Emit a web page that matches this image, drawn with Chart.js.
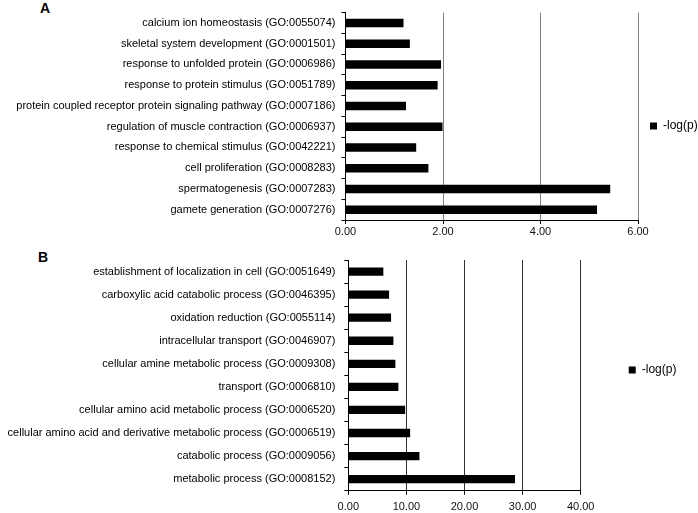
<!DOCTYPE html>
<html>
<head>
<meta charset="utf-8">
<script src="https://cdn.jsdelivr.net/npm/chart.js@4.4.1/dist/chart.umd.min.js"></script>
<style>
  html, body { margin:0; padding:0; background:#fff; overflow:hidden; }
  body { width:698px; height:513px; position:relative; font-family:"Liberation Sans", Arial, sans-serif; }
  .panel-tag { position:absolute; font-weight:bold; font-size:14px; line-height:16px; color:#000; }
  canvas { position:absolute; left:0; }
</style>
</head>
<body>
<div class="panel-tag" style="left:40px;top:0px">A</div>
<div class="panel-tag" style="left:38px;top:249px">B</div>
<canvas id="chartA" width="698" height="247" style="top:0px"></canvas>
<canvas id="chartB" width="698" height="286" style="top:227px"></canvas>
<script>
// Panel A – GO terms and -log(p)
const termsA = [
  'calcium ion homeostasis (GO:0055074)',
  'skeletal system development (GO:0001501)',
  'response to unfolded protein (GO:0006986)',
  'response to protein stimulus (GO:0051789)',
  'protein coupled receptor protein signaling pathway (GO:0007186)',
  'regulation of muscle contraction (GO:0006937)',
  'response to chemical stimulus (GO:0042221)',
  'cell proliferation (GO:0008283)',
  'spermatogenesis (GO:0007283)',
  'gamete generation (GO:0007276)'
];
const logpA = [1.19, 1.32, 1.96, 1.89, 1.24, 1.99, 1.45, 1.70, 5.43, 5.16];
const ticksA = [0, 2, 4, 6];

// Panel B
const termsB = [
  'establishment of localization in cell (GO:0051649)',
  'carboxylic acid catabolic process (GO:0046395)',
  'oxidation reduction (GO:0055114)',
  'intracellular transport (GO:0046907)',
  'cellular amine metabolic process (GO:0009308)',
  'transport (GO:0006810)',
  'cellular amino acid metabolic process (GO:0006520)',
  'cellular amino acid and derivative metabolic process (GO:0006519)',
  'catabolic process (GO:0009056)',
  'metabolic process (GO:0008152)'
];
const logpB = [6.03, 7.02, 7.36, 7.76, 8.10, 8.62, 9.78, 10.64, 12.24, 28.69];
const ticksB = [0, 10, 20, 30, 40];

const seriesName = '-log(p)';

Chart.defaults.font.family = '"Liberation Sans", Arial, sans-serif';
Chart.defaults.color = '#000';

function makeChart(canvas, cfg){
  const tickVals = cfg.ticks;
  const scales = {
    x: {
      type: 'linear',
      min: tickVals[0],
      max: tickVals[tickVals.length-1],
      afterBuildTicks: s => { s.ticks = tickVals.map(v => ({ value: v })); },
      afterFit: s => { s.height = cfg.xHeight; },
      border: { display: true, color: '#000', width: 1 },
      grid: {
        drawTicks: true, tickLength: 4, tickColor: '#000',
        color: c => (c.tick && c.tick.value === 0) ? '#000' : cfg.gridColor,
        lineWidth: 1
      },
      ticks: { font: { size: 11 }, color: '#111', padding: cfg.xPad, callback: v => Number(v).toFixed(2) }
    },
    y: {
      type: 'category',
      afterFit: s => { s.width = cfg.yWidth; },
      border: { display: true, color: '#000', width: 1 },
      grid: { offset: true, drawOnChartArea: false, drawTicks: true, tickLength: 4, tickColor: '#000' },
      ticks: { font: { size: 11 }, color: '#000', padding: cfg.yPad, autoSkip: false }
    }
  };
  if (cfg.topSpace) {
    // empty strip above the plot so the legend sits where the original had it
    scales.xTop = {
      type: 'linear', position: 'top', axis: 'x', display: true,
      grid: { display: false }, border: { display: false }, ticks: { display: false },
      afterFit: s => { s.height = cfg.topSpace; }
    };
  }
  return new Chart(canvas, {
    type: 'bar',
    data: {
      labels: cfg.labels,
      datasets: [{
        label: seriesName,
        data: cfg.values,
        backgroundColor: '#000',
        borderWidth: 0,
        barPercentage: cfg.barPct,
        categoryPercentage: 1
      }]
    },
    options: {
      indexAxis: 'y',
      responsive: false,
      animation: false,
      events: [],
      layout: { padding: cfg.padding },
      scales,
      plugins: {
        tooltip: { enabled: false },
        legend: {
          position: 'right',
          align: 'center',
          maxWidth: cfg.legendMax,
          labels: {
            boxWidth: 7, boxHeight: 7, padding: cfg.legendPad,
            color: '#000', font: { size: 12 }
          }
        }
      }
    }
  });
}

makeChart(document.getElementById('chartA'), {
  labels: termsA, values: logpA, ticks: ticksA,
  gridColor: '#808080', xHeight: 27, xPad: 1, yWidth: 345.5, yPad: 6,
  barPct: 0.41, padding: { top: 5, right: 0, bottom: 0, left: 0 },
  legendPad: 12, legendMax: 60
});

makeChart(document.getElementById('chartB'), {
  labels: termsB, values: logpB, ticks: ticksB,
  gridColor: '#303030', xHeight: 22.3, xPad: 5.4, yWidth: 348.3, yPad: 9,
  barPct: 0.36, padding: { top: 0, right: 11.6, bottom: 0, left: 0 },
  legendPad: 48, topSpace: 33
});
</script>
</body>
</html>
